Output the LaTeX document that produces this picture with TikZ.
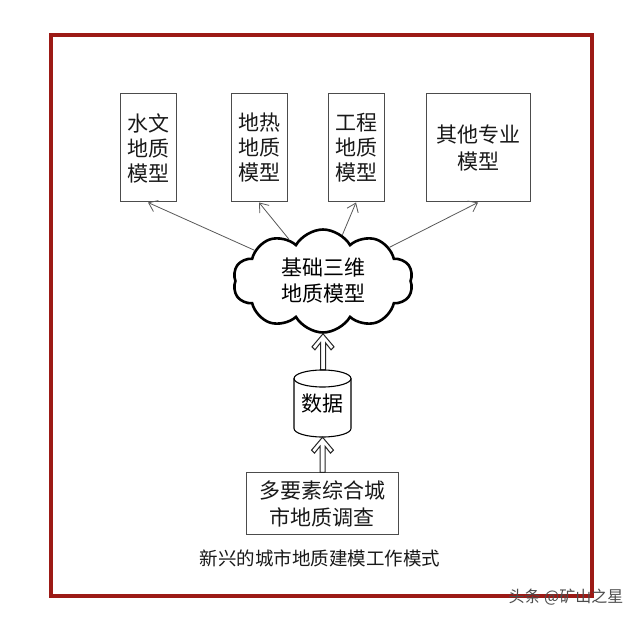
\documentclass[tikz,border=0pt]{standalone}
\usepackage{fontspec}
\newfontfamily\cjk{Noto Sans CJK SC}
\usetikzlibrary{shapes.symbols,arrows.meta,calc}
\definecolor{framered}{HTML}{9C1A16}
\newcommand\hollowarrow[2]{%
  \draw[hollow] let \p1=(#1), \p2=(#2) in
    (\x1,\y1) -- (\x1+11pt,\y1-13pt) -- (\x1+8pt,\y1-16pt) -- (\x1+2.5pt,\y1-9pt)
    -- (\x1+2.5pt,\y2) -- (\x1-2.5pt,\y2) -- (\x1-2.5pt,\y1-9pt)
    -- (\x1-8pt,\y1-16pt) -- (\x1-11pt,\y1-13pt) -- cycle;}
\begin{document}
\begin{tikzpicture}[x=1pt,y=1pt,
  box/.style={draw=black!70,line width=1pt,inner sep=0pt,align=center,
    font=\cjk\fontsize{21}{25}\selectfont,text=black!90},
  link/.style={draw=black!65,line width=0.8pt,-{Straight Barb[length=8pt,width=12pt]}},
  hollow/.style={draw=black!85,line width=1pt,fill=white,line join=miter}]
\useasboundingbox (0,0) rectangle (640,619);
\fill[white] (0,0) rectangle (640,619);
% outer frame
\draw[line width=4pt,draw=framered] (51,23) rectangle (592,584);
% top boxes
\node[box,minimum width=56pt,minimum height=108pt] (b1) at (148,471) {水文\\地质\\模型};
\node[box,minimum width=56pt,minimum height=108pt] (b2) at (259,471) {地热\\地质\\模型};
\node[box,minimum width=56pt,minimum height=108pt] (b3) at (356,471) {工程\\地质\\模型};
\node[box,minimum width=104pt,minimum height=108pt,font=\cjk\fontsize{21}{27}\selectfont] (b4) at (478,471) {其他专业\\模型};
% cloud
\node[cloud,draw=black,line width=2.6pt,cloud puffs=10,cloud puff arc=120,aspect=1.75,
  minimum width=180pt,minimum height=103pt,inner sep=0pt,align=center,
  font=\cjk\fontsize{21}{26}\selectfont] (cloud) at (323,338) {基础三维\\地质模型};
\draw[link] (cloud) -- (b1.south);
\draw[link] (cloud) -- (b2.south);
\draw[link] (cloud) -- (b3.south);
\draw[link] (cloud) -- (b4.south);
% cylinder
\node[minimum width=57pt,minimum height=67pt,inner sep=0pt,
  font=\cjk\fontsize{21}{25}\selectfont] (cyl) at (322.5,215.5) {数据};
\hollowarrow{cloud.south}{cyl.north}
\draw[line width=1.1pt] (294,240.5) -- (294,190.5)
  arc[start angle=180,end angle=360,x radius=28.5,y radius=8.5] -- (351,240.5);
\draw[line width=1.1pt] (322.5,240.5) ellipse[x radius=28.5,y radius=8.5];
% bottom box
\node[box,minimum width=152pt,minimum height=61pt,font=\cjk\fontsize{21}{27}\selectfont] (survey) at (322,115.5) {多要素综合城\\市地质调查};
\hollowarrow{cyl.south}{survey.north}
% caption
\node[font=\cjk\fontsize{18.5}{20}\selectfont,text=black!90] (cap) at (320,61) {新兴的城市地质建模工作模式};
% watermark
\node[font=\cjk\fontsize{16}{18}\selectfont,text=black!70] (wm) at (566,22) {头条 @矿山之星};
\end{tikzpicture}
\end{document}
